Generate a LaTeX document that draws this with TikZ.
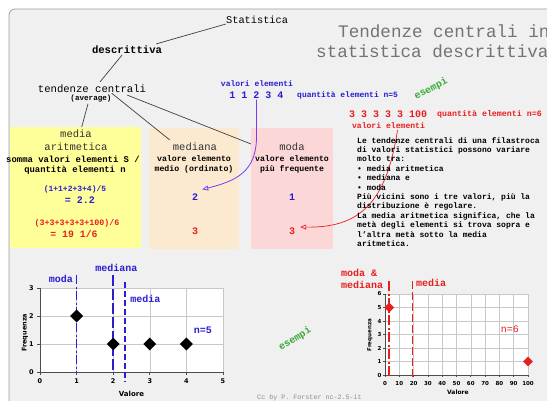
\documentclass[tikz,border=0pt]{standalone}
\usepackage{fontspec}
\setmainfont{Liberation Mono}
\newfontfamily\chartfont{DejaVu Sans}
\usetikzlibrary{arrows.meta,shapes.geometric}

\definecolor{panelbg}{RGB}{240,240,240}
\definecolor{panelline}{RGB}{160,160,160}
\definecolor{boxyellow}{RGB}{255,255,153}
\definecolor{boxpeach}{RGB}{252,234,208}
\definecolor{boxpink}{RGB}{252,215,215}
\definecolor{titledark}{RGB}{50,50,50}
\definecolor{exblue}{RGB}{40,30,210}
\definecolor{exred}{RGB}{235,30,30}
\definecolor{exgreen}{RGB}{55,170,55}
\definecolor{titlegray}{RGB}{115,115,115}
\definecolor{arrowviolet}{RGB}{120,60,240}
\definecolor{gridgray}{RGB}{200,200,200}
\definecolor{footergray}{RGB}{140,140,140}

\tikzset{
  txt/.style={inner sep=0pt, font=\fontsize{#1}{#1}\selectfont},
  btxt/.style={inner sep=0pt, font=\fontsize{#1}{#1}\selectfont\bfseries},
  para/.style={inner sep=0pt, align=left, font=\fontsize{8}{9.4}\selectfont\bfseries},
  chartnum/.style={inner sep=0pt, font=\chartfont\bfseries\fontsize{#1}{#1}\selectfont},
  conn/.style={line width=0.7pt, draw=black!75},
  markdia/.style={diamond, inner sep=0pt, minimum size=#1},
  gridline/.style={draw=gridgray, line width=0.5pt},
  plotaxis/.style={draw=black!70, line width=0.7pt},
  colbox/.style={anchor=north west, inner sep=0pt, fill=#1},
  boxtitle/.style={txt=10.5, text=titledark},
}

\begin{document}
\begin{tikzpicture}[x=1pt,y=-1pt]
\useasboundingbox (0,0) rectangle (547,401);
\clip (0,0) rectangle (547,401);
\fill[white] (0,0) rectangle (547,401);
% slide panel
\draw[panelline, fill=panelbg, rounded corners=6pt, line width=0.8pt] (9,9) rectangle (570,430);

% title
\node[txt=17.6, text=titlegray, anchor=west] (title1) at (338,31) {Tendenze centrali in};
\node[txt=17.6, text=titlegray, anchor=west] (title2) at (316,51) {statistica descrittiva};

% concept tree
\node[txt=10.3, anchor=west] (stat) at (226,20) {Statistica};
\node[btxt=10.6] (desc) at (127,50) {descrittiva};
\node[txt=10.6] (tend) at (92,89) {tendenze centrali};
\node[btxt=7.6] (avg) at (91,99) {(average)};

% coloured boxes
\node[colbox=boxyellow, minimum width=131pt, minimum height=121pt] (mediabox) at (10,127) {};
\node[colbox=boxpeach, minimum width=90pt, minimum height=121pt] (medianabox) at (149,128) {};
\node[colbox=boxpink, minimum width=82pt, minimum height=121pt] (modabox) at (251,128) {};

% media aritmetica
\node[boxtitle] (mtit1) at (76,134) {media};
\node[boxtitle] (mtit2) at (76,147) {aritmetica};
\node[btxt=8.9] (mdef1) at (73,159) {somma valori elementi S /};
\node[btxt=8.9] (mdef2) at (75,170) {quantità elementi n};
\node[btxt=8, text=exblue] (mcalc1) at (75,189) {(1+1+2+3+4)/5};
\node[btxt=10, text=exblue] (mres1) at (80,200) {= 2.2};
\node[btxt=8.3, text=exred] (mcalc2) at (77,223) {(3+3+3+3+3+100)/6};
\node[btxt=9.8, text=exred] (mres2) at (74,234) {= 19 1/6};

% mediana
\node[boxtitle] (medtit) at (195,147) {mediana};
\node[btxt=8.2] (meddef1) at (194,159) {valore elemento};
\node[btxt=8.2] (meddef2) at (194,169) {medio (ordinato)};
\node[btxt=10, text=exblue, inner sep=4pt] (med2) at (195,197) {2};
\node[btxt=10, text=exred] (med3) at (195,231) {3};

% moda
\node[boxtitle] (modtit) at (292,147) {moda};
\node[btxt=8.2] (moddef1) at (292,159) {valore elemento};
\node[btxt=8.2] (moddef2) at (292,169) {più frequente};
\node[btxt=10, text=exblue] (mod1) at (292,197) {1};
\node[btxt=10, text=exred, inner sep=5pt] (mod3) at (292,231) {3};

% tree connectors
\draw[conn] (stat.south west) -- ([xshift=-6pt,yshift=2pt]desc.north east);
\draw[conn] ([xshift=-5pt,yshift=-1pt]desc.south) -- ([xshift=8pt,yshift=3pt]tend.north);
\draw[conn] ([xshift=-3pt,yshift=-1pt]avg.south) -- ([xshift=6pt]mediabox.north);
\draw[conn] ([yshift=2pt]avg.north east) -- ([xshift=-3pt,yshift=3pt]medtit.north west);
\draw[conn] ([xshift=-19pt,yshift=-2pt]tend.south east) -- ([yshift=-16pt]modabox.north west);

% example values
\node[btxt=8, text=exblue] (bluevals) at (257,84) {valori elementi};
\node[btxt=10, text=exblue] (nums) at (256.5,95) {1 1 2 3 4};
\node[btxt=8, text=exblue, anchor=west] (bluecount) at (297,95) {quantità elementi n=5};
\node[btxt=10, text=exgreen, rotate=28] (ex1) at (431,89) {esempi};
\node[btxt=10, text=exred, anchor=west] (rednums) at (349,114) {3 3 3 3 3 100};
\node[btxt=8.3, text=exred, anchor=west] (redcount) at (437,114) {quantità elementi n=6};
\node[btxt=8.1, text=exred] (redvals) at (388.5,126) {valori elementi};

% arrows to the boxes
\draw[arrowviolet, line width=0.8pt, -{Triangle[open,length=6pt,width=5pt]}]
  ([yshift=-1pt]nums.south) -- ++(0,38) .. controls (256,172) and (236,181) .. (med2.north east);
\draw[exred, line width=0.7pt, -{Triangle[open,length=6pt,width=5pt]}]
  ([xshift=9pt,yshift=-1pt]redvals.south) .. controls (386,205) and (358,228) .. ([yshift=4pt]mod3.east);

% explanation
\node[para, anchor=north west] (para) at (357,137) {Le tendenze centrali di una filastroca\\
di valori statistici possono variare\\
molto tra:\\
• media aritmetica\\
• mediana e\\
• moda\\
Più vicini sono i tre valori, più la\\
distribuzione è regolare.\\
La media aritmetica significa, che la\\
metà degli elementi si trova sopra e\\
l'altra metà sotto la media\\
aritmetica.};

% first example chart
\begin{scope}[shift={(40,372)}, x=36.6pt, y=28pt]
  \fill[white] (0,0) rectangle (5,3);
  \foreach \i in {1,...,5} \draw[gridline] (\i,0) -- (\i,3);
  \foreach \j in {1,2,3} \draw[gridline] (0,\j) -- (5,\j);
  \draw[plotaxis] (0,3) -- (0,0) -- (5,0);
  \foreach \j in {0,...,3} {
    \draw[plotaxis] (0,\j) -- ++(-3pt,0);
    \node[chartnum=6.5, anchor=east] (ly\j) at (-0.17,\j) {\j};
  }
  \foreach \i in {0,...,5} {
    \draw[plotaxis] (\i,0) -- ++(0,-3pt);
    \node[chartnum=6.5] (lx\i) at (\i,-0.33) {\i};
  }
  \node[chartnum=7] (lxt) at (2.5,-0.78) {Valore};
  \node[chartnum=6.5, rotate=90] (lyt) at (-0.41,1.4) {Frequenza};
  \draw[exblue, line width=1.6pt, dash pattern=on 9pt off 2.5pt on 2pt off 2.5pt] (1,3.46) -- (1,0);
  \draw[exblue, line width=1.6pt, dash pattern=on 11pt off 3pt] (2,3.46) -- (2,0);
  \draw[exblue, line width=1.6pt, dash pattern=on 6pt off 3pt] (2.33,3.2) -- (2.33,-0.36);
  \node[markdia=13pt, fill=black] (d1) at (1,2) {};
  \node[markdia=13pt, fill=black] (d2) at (2,1) {};
  \node[markdia=13pt, fill=black] (d3) at (3,1) {};
  \node[markdia=13pt, fill=black] (d4) at (4,1) {};
  \node[btxt=10, text=exblue] (lmoda) at (0.57,3.32) {moda};
  \node[btxt=10, text=exblue] (lmediana) at (2.09,3.71) {mediana};
  \node[btxt=10, text=exblue] (lmedia) at (2.88,2.6) {media};
  \node[btxt=10, text=exblue] (ln) at (4.45,1.5) {n=5};
\end{scope}

\node[btxt=10, text=exgreen, rotate=32] (ex2) at (295,339) {esempi};

% second example chart
\begin{scope}[shift={(385,375)}, x=1.43pt, y=13.5pt]
  \fill[white] (0,0) rectangle (100,6);
  \foreach \i in {10,20,...,100} \draw[gridline] (\i,0) -- (\i,6);
  \foreach \j in {1,...,6} \draw[gridline] (0,\j) -- (100,\j);
  \draw[plotaxis] (0,6) -- (0,0) -- (100,0);
  \foreach \j in {0,...,6} {
    \draw[plotaxis] (0,\j) -- ++(-2pt,0);
    \node[chartnum=5.5, anchor=east] (ry\j) at (-2.4,\j) {\j};
  }
  \foreach \i in {0,10,...,100} {
    \draw[plotaxis] (\i,0) -- ++(0,-2pt);
    \node[chartnum=5.5] (rx\i) at (\i,-0.62) {\i};
  }
  \node[chartnum=6] (rxt) at (51,-1.27) {Valore};
  \node[chartnum=5.5, rotate=90] (ryt) at (-10.5,2.96) {Frequenza};
  \draw[exred, line width=1.6pt, dash pattern=on 10pt off 2.5pt on 2pt off 2.5pt] (3,6.96) -- (3,-0.1);
  \draw[exred, line width=1.6pt, dash pattern=on 8pt off 3pt] (19.17,6.96) -- (19.17,-0.37);
  \node[markdia=10pt, fill=exred] (rd1) at (3,5) {};
  \node[markdia=10pt, fill=exred] (rd2) at (100,1) {};
  \node[btxt=10, text=exred, anchor=west] (rlab1) at (-30.8,7.55) {moda \&};
  \node[btxt=10, text=exred, anchor=west] (rlab2) at (-30.8,6.67) {mediana};
  \node[btxt=10, text=exred, anchor=west] (rlab3) at (21.7,6.81) {media};
  \node[txt=10, text=exred] (rn) at (87.4,3.4) {n=6};
\end{scope}

% credit line
\node[txt=6.7, text=footergray] (credit) at (309.5,398) {Cc by P. Forster nc-2.5-it};
\end{tikzpicture}
\end{document}
